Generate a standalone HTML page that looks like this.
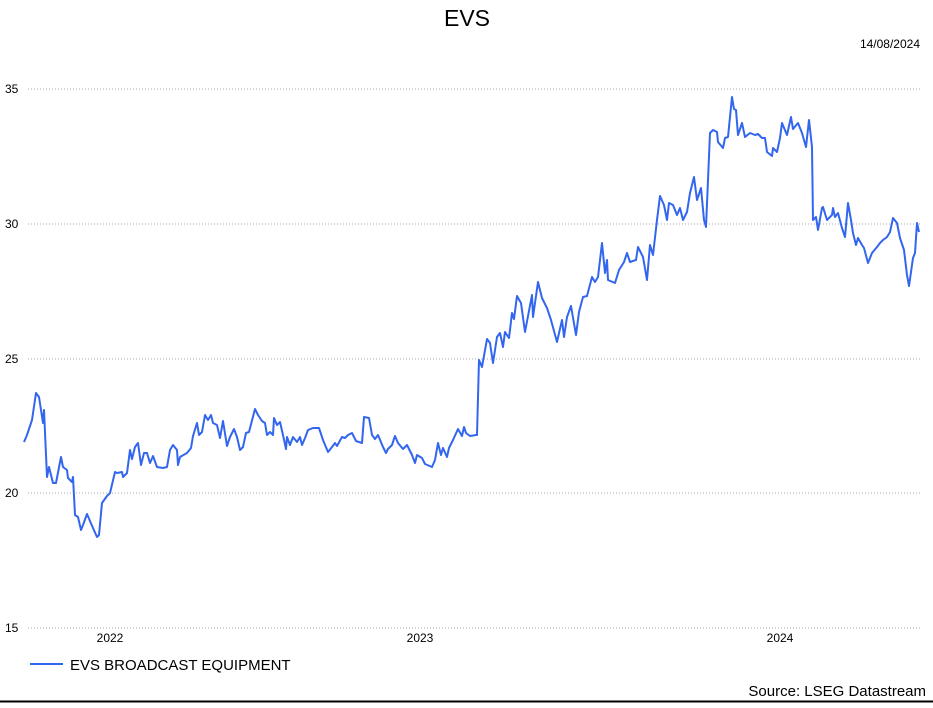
<!DOCTYPE html>
<html><head><meta charset="utf-8"><style>
body{margin:0;background:#fff;width:933px;height:703px;overflow:hidden;font-family:"Liberation Sans",sans-serif;}
</style></head><body>
<svg width="933" height="703" xmlns="http://www.w3.org/2000/svg" font-family="Liberation Sans, sans-serif">
<text x="467" y="26" font-size="23" text-anchor="middle" fill="#000">EVS</text>
<text x="920" y="48" font-size="12" text-anchor="end" fill="#000">14/08/2024</text>
<g stroke="#aaa" stroke-width="1" stroke-dasharray="1,2">
<line x1="28" y1="89" x2="920" y2="89"/>
<line x1="28" y1="224" x2="920" y2="224"/>
<line x1="28" y1="359" x2="920" y2="359"/>
<line x1="28" y1="493" x2="920" y2="493"/>
<line x1="28" y1="628" x2="920" y2="628"/>
</g>
<g font-size="12" fill="#000">
<text x="5" y="93">35</text><text x="5" y="228">30</text><text x="5" y="363">25</text><text x="5" y="497">20</text><text x="5" y="632">15</text>
<text x="110" y="642" text-anchor="middle">2022</text>
<text x="420" y="642" text-anchor="middle">2023</text>
<text x="780" y="642" text-anchor="middle">2024</text>
</g>
<polyline fill="none" stroke="#3366ee" stroke-width="2" stroke-linejoin="round" points="24,442 27,435 32,420 36,393 39,397 43,423 44,410 47,477 49,467 53,483 56,483 61,457 63,467 67,470 68,478 72,482 73,477 75,515 78,517 81,530 83,525 87,514 93,528 97,537 99,535 102,503 107,496 110,493 115,472 117,473 122,472 123,477 127,473 130,450 132,459 135,447 138,443 141,465 144,453 147,453 150,463 153,456 157,467 163,468 167,467 170,450 173,445 177,450 178,465 180,457 187,453 191,448 193,436 197,423 199,435 202,432 205,415 208,420 211,415 213,423 217,425 220,438 223,421 227,446 230,437 234,429 237,437 240,450 243,447 246,433 249,432 255,409 258,415 262,421 265,423 267,435 270,432 273,435 274,418 277,425 280,422 283,435 286,449 287,437 290,445 293,437 297,442 300,437 302,445 305,438 308,430 313,428 319,428 323,440 328,452 332,447 335,443 337,446 342,437 345,438 348,435 352,433 356,441 362,443 364,417 369,418 372,435 375,439 378,435 383,447 386,453 388,449 392,445 395,436 398,443 403,449 407,445 412,455 415,463 417,455 422,458 425,464 432,467 435,460 438,443 441,455 443,448 447,457 449,448 453,440 458,429 462,436 464,427 466,433 470,436 476,435 477,435 479,360 482,367 487,339 490,343 493,363 497,337 500,333 503,347 505,332 509,338 512,313 514,319 517,296 521,303 525,332 532,295 533,317 538,282 542,298 547,308 551,320 557,342 562,320 564,337 567,317 571,306 576,335 579,312 583,297 587,296 592,277 595,282 598,277 602,243 605,273 607,260 608,280 615,283 619,270 624,262 627,253 630,262 636,260 638,247 643,257 647,280 650,245 653,255 657,220 660,196 664,205 667,220 669,203 673,205 677,215 680,208 683,220 687,212 690,193 694,177 697,200 701,188 704,220 706,227 710,133 713,130 717,132 718,142 723,148 725,138 728,137 732,97 734,109 736,110 738,135 742,123 745,137 750,133 755,135 758,134 762,138 765,138 767,152 772,156 773,148 777,152 780,138 782,123 787,135 791,117 793,129 798,123 802,133 806,147 809,120 812,147 813,220 816,217 818,230 822,208 823,207 827,220 832,215 833,208 835,217 838,213 842,228 845,237 848,203 851,220 853,233 856,245 858,238 862,245 864,248 868,263 872,253 877,247 880,243 883,240 887,237 890,232 893,218 897,223 900,238 904,250 907,275 909,286 913,258 915,253 917,223 919,232"/>
<line x1="30" y1="664" x2="63" y2="664" stroke="#3366ee" stroke-width="2"/>
<text x="70" y="670" font-size="15" fill="#000">EVS BROADCAST EQUIPMENT</text>
<text x="926" y="696" font-size="15" text-anchor="end" fill="#000">Source: LSEG Datastream</text>
<line x1="0" y1="701.5" x2="933" y2="701.5" stroke="#000" stroke-width="2"/>
</svg>
</body></html>
